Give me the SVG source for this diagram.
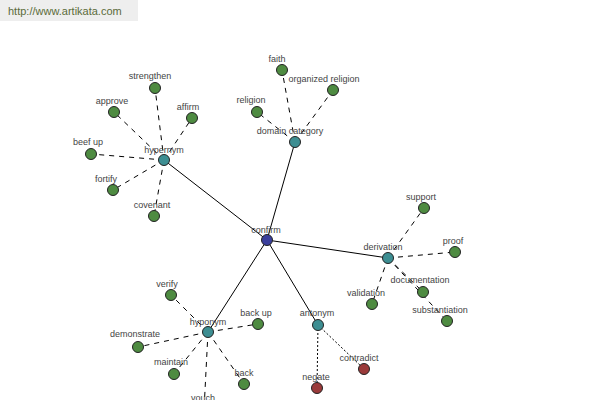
<svg xmlns="http://www.w3.org/2000/svg" width="600" height="400" viewBox="0 0 600 400">
<style>
.e{stroke:#000;stroke-width:1;fill:none}
.d{stroke-dasharray:5,5}
.o{stroke-dasharray:2,2}
circle{stroke:#222;stroke-width:1}
.g{fill:#4e8b41}
.h{fill:#3d8e92}
.c{fill:#3a3f9c}
.r{fill:#9a3a3a}
text{font-family:"Liberation Sans",Arial,sans-serif;font-size:9px;fill:#444;text-anchor:middle}
</style>
<rect x="0" y="0" width="138" height="21" fill="#eeeeee"/>
<text x="8" y="15" style="text-anchor:start;font-size:11px;fill:#5b6b3a">http://www.artikata.com</text>
<g id="connectors">
<line class="e" x1="267" y1="240" x2="164" y2="160"/>
<line class="e" x1="267" y1="240" x2="295" y2="142"/>
<line class="e" x1="267" y1="240" x2="388" y2="258"/>
<line class="e" x1="267" y1="240" x2="208" y2="332"/>
<line class="e" x1="267" y1="240" x2="318" y2="325"/>
<line class="e d" x1="164" y1="160" x2="155" y2="88"/>
<line class="e d" x1="164" y1="160" x2="114" y2="112"/>
<line class="e d" x1="164" y1="160" x2="192" y2="118"/>
<line class="e d" x1="164" y1="160" x2="91" y2="154"/>
<line class="e d" x1="164" y1="160" x2="113" y2="190"/>
<line class="e d" x1="164" y1="160" x2="154" y2="216"/>
<line class="e d" x1="295" y1="142" x2="282" y2="70"/>
<line class="e d" x1="295" y1="142" x2="333" y2="90"/>
<line class="e d" x1="295" y1="142" x2="257" y2="112"/>
<line class="e d" x1="388" y1="258" x2="424" y2="208"/>
<line class="e d" x1="388" y1="258" x2="455" y2="252"/>
<line class="e d" x1="388" y1="258" x2="423" y2="292"/>
<line class="e d" x1="388" y1="258" x2="372" y2="304"/>
<line class="e d" x1="388" y1="258" x2="447" y2="321"/>
<line class="e d" x1="208" y1="332" x2="171" y2="295"/>
<line class="e d" x1="208" y1="332" x2="258" y2="324"/>
<line class="e d" x1="208" y1="332" x2="138" y2="347"/>
<line class="e d" x1="208" y1="332" x2="174" y2="374"/>
<line class="e d" x1="208" y1="332" x2="244" y2="384"/>
<line class="e d" x1="208" y1="332" x2="204" y2="410"/>
<line class="e o" x1="318" y1="325" x2="364" y2="369"/>
<line class="e o" x1="318" y1="325" x2="317" y2="388"/>
</g>
<g id="n-confirm"><circle class="c" cx="267" cy="240" r="5.5"/><text x="266" y="233">confirm</text></g>
<g id="n-hypernym"><circle class="h" cx="164" cy="160" r="5.5"/><text x="164" y="153">hypernym</text></g>
<g id="n-domain"><circle class="h" cx="295" cy="142" r="5.5"/><text x="290" y="134">domain category</text></g>
<g id="n-derivation"><circle class="h" cx="388" cy="258" r="5.5"/><text x="383" y="250">derivation</text></g>
<g id="n-hyponym"><circle class="h" cx="208" cy="332" r="5.5"/><text x="208" y="325">hyponym</text></g>
<g id="n-antonym"><circle class="h" cx="318" cy="325" r="5.5"/><text x="317" y="316">antonym</text></g>
<g id="n-strengthen"><circle class="g" cx="155" cy="88" r="5.5"/><text x="150" y="79">strengthen</text></g>
<g id="n-approve"><circle class="g" cx="114" cy="112" r="5.5"/><text x="112" y="104">approve</text></g>
<g id="n-affirm"><circle class="g" cx="192" cy="118" r="5.5"/><text x="188" y="110">affirm</text></g>
<g id="n-beefup"><circle class="g" cx="91" cy="154" r="5.5"/><text x="88" y="145">beef up</text></g>
<g id="n-fortify"><circle class="g" cx="113" cy="190" r="5.5"/><text x="106" y="182">fortify</text></g>
<g id="n-covenant"><circle class="g" cx="154" cy="216" r="5.5"/><text x="152" y="208">covenant</text></g>
<g id="n-faith"><circle class="g" cx="282" cy="70" r="5.5"/><text x="277" y="62">faith</text></g>
<g id="n-organized"><circle class="g" cx="333" cy="90" r="5.5"/><text x="324" y="82">organized religion</text></g>
<g id="n-religion"><circle class="g" cx="257" cy="112" r="5.5"/><text x="251" y="103">religion</text></g>
<g id="n-support"><circle class="g" cx="424" cy="208" r="5.5"/><text x="421" y="200">support</text></g>
<g id="n-proof"><circle class="g" cx="455" cy="252" r="5.5"/><text x="453" y="244">proof</text></g>
<g id="n-documentation"><circle class="g" cx="423" cy="292" r="5.5"/><text x="420" y="283">documentation</text></g>
<g id="n-validation"><circle class="g" cx="372" cy="304" r="5.5"/><text x="366" y="296">validation</text></g>
<g id="n-substantiation"><circle class="g" cx="447" cy="321" r="5.5"/><text x="440" y="313">substantiation</text></g>
<g id="n-verify"><circle class="g" cx="171" cy="295" r="5.5"/><text x="167" y="287">verify</text></g>
<g id="n-backup"><circle class="g" cx="258" cy="324" r="5.5"/><text x="256" y="316">back up</text></g>
<g id="n-demonstrate"><circle class="g" cx="138" cy="347" r="5.5"/><text x="135" y="337">demonstrate</text></g>
<g id="n-maintain"><circle class="g" cx="174" cy="374" r="5.5"/><text x="171" y="365">maintain</text></g>
<g id="n-back"><circle class="g" cx="244" cy="384" r="5.5"/><text x="244" y="376">back</text></g>
<g id="n-vouch"><text x="203" y="401">vouch</text></g>
<g id="n-contradict"><circle class="r" cx="364" cy="369" r="5.5"/><text x="359" y="361">contradict</text></g>
<g id="n-negate"><circle class="r" cx="317" cy="388" r="5.5"/><text x="316" y="380">negate</text></g>
</svg>
